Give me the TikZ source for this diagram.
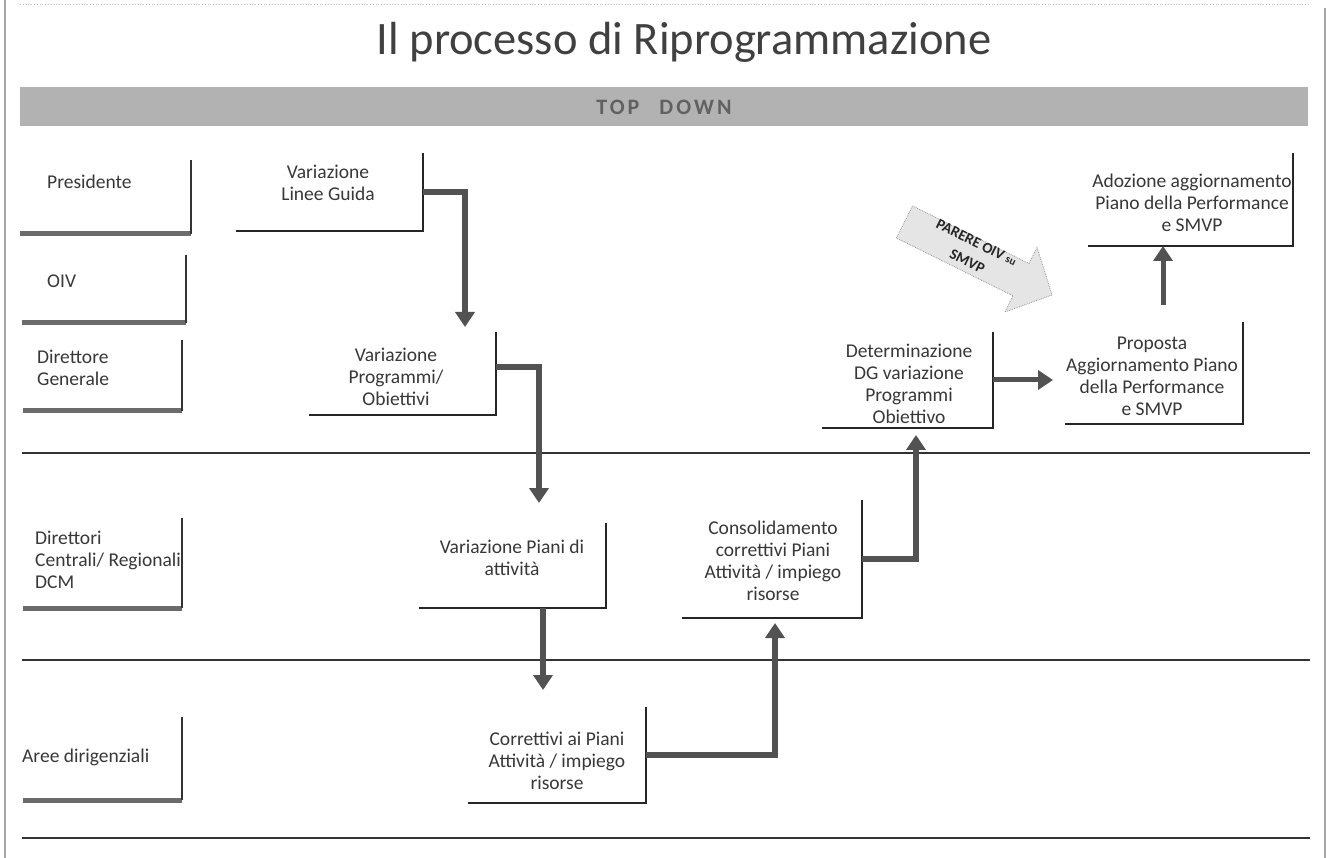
\documentclass[tikz,border=0pt]{standalone}
\usepackage{fontspec}
\setmainfont{Carlito}
\usetikzlibrary{arrows.meta}
\begin{document}
\begin{tikzpicture}[x=1pt,y=-1pt,
  txt/.style={text=black!78, font=\fontsize{19.5}{22}\selectfont, align=center, inner sep=0pt},
  rtxt/.style={txt, align=left, anchor=west},
  frame/.style={inner sep=0pt, outer sep=0pt, draw=none},
  pedge/.style={draw=black!85, line width=1.6pt},
  redge/.style={draw=black!80, line width=1.8pt},
  rbar/.style={draw=black!58, line width=5pt},
  lane/.style={draw=black!80, line width=1.5pt},
  flow/.style={draw=black!68, line width=6pt, -{Triangle[width=19pt,length=15pt]}},
  oiv/.style={fill=black!10, draw=black!40, densely dotted, line width=0.8pt}
]
\useasboundingbox (0,0) rectangle (1331,858);
\fill[white] (0,0) rectangle (1331,858);

% page edges
\draw[black!35, line width=1.2pt] (5,0) -- (5,858);
\draw[black!35, line width=1.2pt] (1325,8) -- (1325,858);
\draw[black!25, dotted, line width=0.8pt] (20,4) -- (1310,4);

% title and band
\node[font=\fontsize{46.5}{56}\selectfont, text=black!75, anchor=base, inner sep=0pt] (title) at (684,55) {Il processo di Riprogrammazione};
\fill[black!30] (20,87) rectangle (1308,126);
\node[font=\fontsize{22}{26}\selectfont\bfseries\addfontfeature{LetterSpace=14}, text=black!62, anchor=base, inner sep=0pt] (td) at (664,115) {TOP\hspace{20pt}DOWN};

% lane lines
\draw[lane] (22,453) -- (1310,453);
\draw[lane] (22,660) -- (1310,660);
\draw[lane] (22,838) -- (1310,838);

% role boxes (left column)
\node[frame, minimum width=171pt, minimum height=74pt, anchor=south east] (r1) at (191,234) {};
\node[frame, minimum width=164pt, minimum height=68pt, anchor=south east] (r2) at (186,323) {};
\node[frame, minimum width=159pt, minimum height=71pt, anchor=south east] (r3) at (182,411) {};
\node[frame, minimum width=159pt, minimum height=90pt, anchor=south east] (r4) at (182,608) {};
\node[frame, minimum width=159pt, minimum height=83pt, anchor=south east] (r5) at (182,800) {};
\foreach \r in {r1,r2,r3,r4,r5}{
  \draw[rbar] (\r.south west) -- (\r.south east);
  \draw[redge] (\r.north east) -- (\r.south east);
}
\node[rtxt] (tr1) at (47,182) {Presidente};
\node[rtxt] (tr2) at (47,281) {OIV};
\node[rtxt] (tr3) at (37,368) {Direttore\\Generale};
\node[rtxt] (tr4) at (35,560) {Direttori\\Centrali/ Regionali\\DCM};
\node[rtxt] (tr5) at (22,757) {Aree dirigenziali};

% process boxes
\node[frame, minimum width=187pt, minimum height=78pt, anchor=south east] (b1) at (423,231) {};
\node[frame, minimum width=187pt, minimum height=83pt, anchor=south east] (b2) at (496,415) {};
\node[frame, minimum width=187pt, minimum height=85pt, anchor=south east] (b3) at (606,608) {};
\node[frame, minimum width=178pt, minimum height=96pt, anchor=south east] (b4) at (646,803) {};
\node[frame, minimum width=180pt, minimum height=118pt, anchor=south east] (b5) at (862,618) {};
\node[frame, minimum width=171pt, minimum height=96pt, anchor=south east] (b6) at (993,428) {};
\node[frame, minimum width=178pt, minimum height=102pt, anchor=south east] (b7) at (1243,424) {};
\node[frame, minimum width=205pt, minimum height=93pt, anchor=south east] (b8) at (1293,246) {};
\foreach \b in {b1,b2,b3,b4,b5,b6,b7,b8}{
  \draw[pedge] (\b.north east) -- (\b.south east) -- (\b.south west);
}
\node[txt] (t1) at (328,183) {Variazione\\Linee Guida};
\node[txt] (t2) at (396,377) {Variazione\\Programmi/\\Obiettivi};
\node[txt] (t3) at (512,558) {Variazione Piani di\\attività};
\node[txt] (t4) at (557,761) {Correttivi ai Piani\\Attività / impiego\\risorse};
\node[txt] (t5) at (773,561) {Consolidamento\\correttivi Piani\\Attività / impiego\\risorse};
\node[txt] (t6) at (909,384) {Determinazione\\DG variazione\\Programmi\\Obiettivo};
\node[txt] (t7) at (1152,376) {Proposta\\Aggiornamento Piano\\della Performance\\e SMVP};
\node[txt] (t8) at (1192,203) {Adozione aggiornamento\\Piano della Performance\\e SMVP};

% connector end points
\coordinate (tip12) at (465,327);
\coordinate (tip23) at (539,503);
\coordinate (tip34) at (543,690);
\coordinate (tip45) at (775,623);
\coordinate (tip56) at (916,435);
\coordinate (tip67) at (1053,380);
\coordinate (s78) at (1163,305);

\draw[flow] (b1.east) -| (tip12);
\draw[flow] ([yshift=6pt]b2.east) -| (tip23);
\draw[flow] (b3.south -| tip34) -- (tip34);
\draw[flow] (b4.east) -| (tip45);
\draw[flow] (b5.east) -| (tip56);
\draw[flow, line width=5pt] (b6.east) -- (tip67);
\draw[flow, line width=5pt] (s78) -- (b8.south -| s78);

% PARERE OIV block arrow
\draw[oiv] (912.5,205.9) -- (1029,263.6) -- (1037,247.4) -- (1052,295) -- (1005,312) -- (1013,295.8) -- (896.5,238.1) -- cycle;
\node[font=\fontsize{15}{21}\selectfont\bfseries, rotate=-26.3, align=center, inner sep=0pt, text=black!85] (parere) at (972,252) {PARERE OIV {\fontsize{11}{13}\selectfont su}\\SMVP};
\end{tikzpicture}
\end{document}
